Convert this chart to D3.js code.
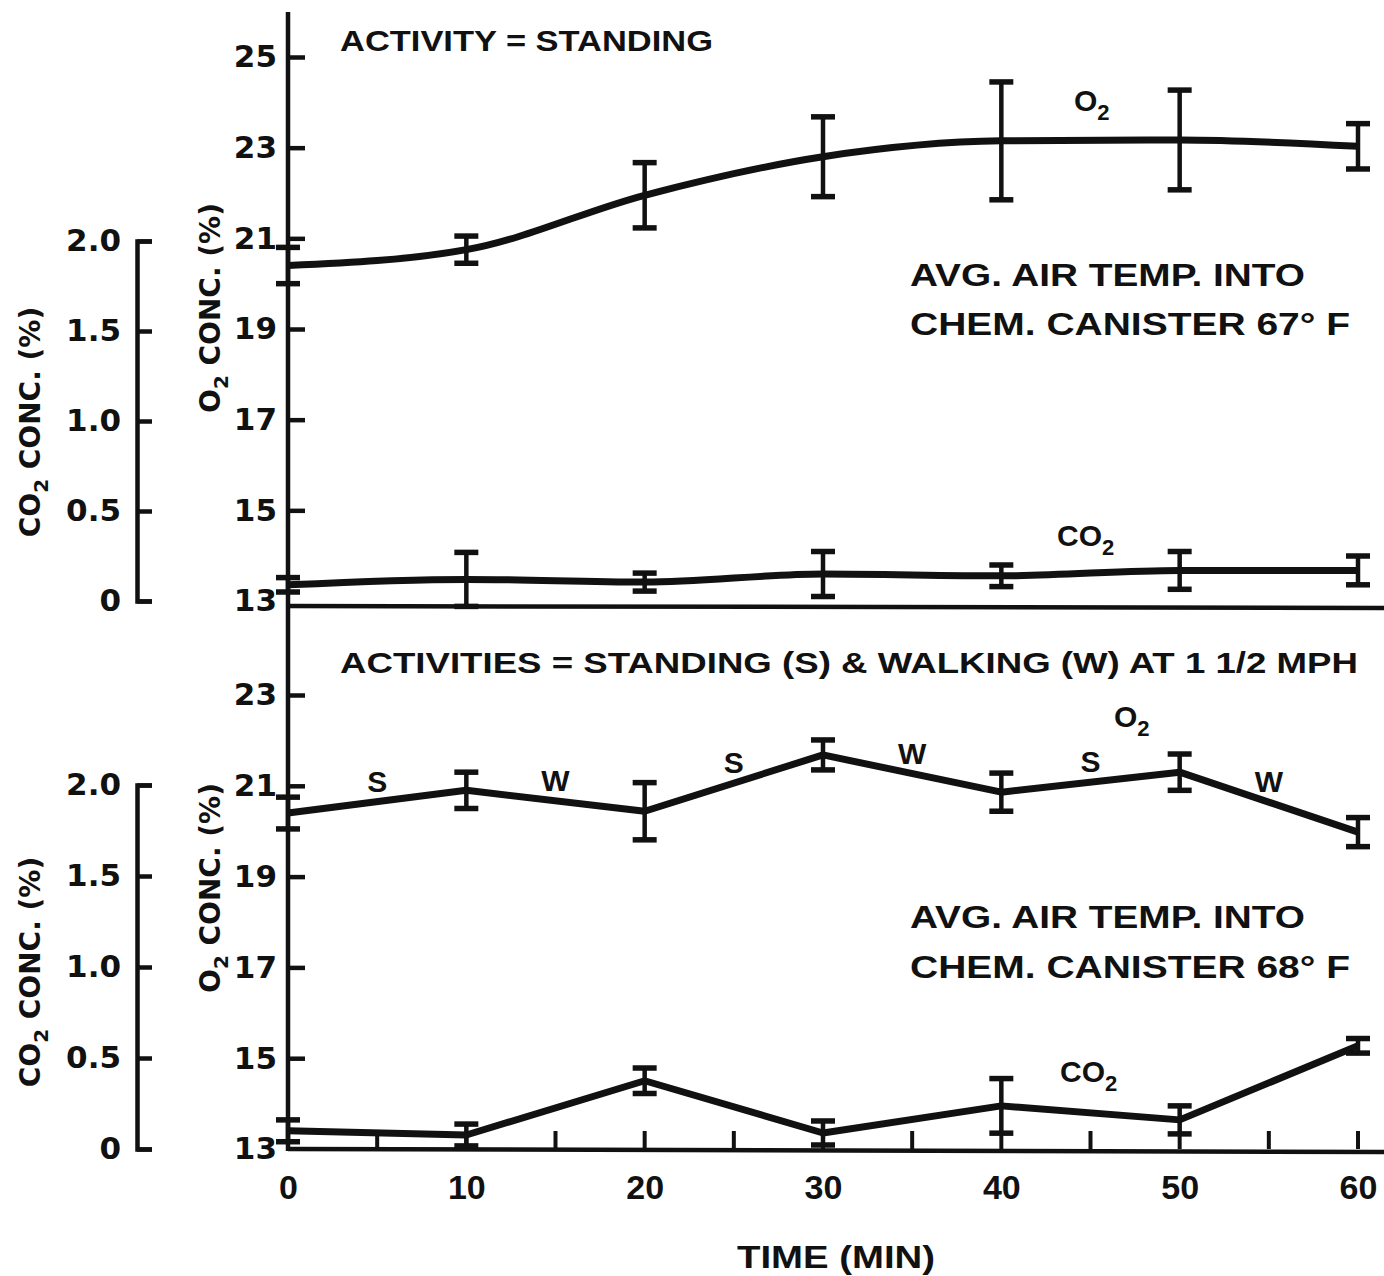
<!DOCTYPE html>
<html>
<head>
<meta charset="utf-8">
<script src="https://cdn.jsdelivr.net/npm/d3@7"></script>
<style>
  body { margin: 0; background: #fff; }
  svg text { font-family: "DejaVu Sans", sans-serif; fill: #111; }
</style>
</head>
<body>
<svg id="chart" width="1384" height="1276"></svg>
<script>
// time points (min)
var times = [0, 10, 20, 30, 40, 50, 60];

// top panel: activity = standing
var o2Standing = [20.4, 20.75, 21.95, 22.8, 23.15, 23.17, 23.03];
var o2StandingErr = [0.4, 0.3, 0.72, 0.88, 1.3, 1.1, 0.5];
var co2Standing = [0.09, 0.12, 0.105, 0.15, 0.14, 0.17, 0.17];
var co2StandingErr = [0.04, 0.15, 0.05, 0.125, 0.06, 0.105, 0.08];

// bottom panel: standing & walking
var o2Mixed = [20.4, 20.9, 20.44, 21.68, 20.86, 21.3, 19.98];
var o2MixedErr = [0.35, 0.4, 0.63, 0.33, 0.42, 0.4, 0.32];
var co2Mixed = [0.1, 0.077, 0.375, 0.088, 0.237, 0.16, 0.567];
var co2MixedErr = [0.06, 0.06, 0.07, 0.066, 0.15, 0.077, 0.04];

var phases = ["S", "W", "S", "W", "S", "W"];

var o2TicksTop = [13, 15, 17, 19, 21, 23, 25];
var o2TicksBottom = [13, 15, 17, 19, 21, 23];
var co2Ticks = [0, 0.5, 1.0, 1.5, 2.0];
var timeTicks = [0, 10, 20, 30, 40, 50, 60];
var timeMinorTicks = [5, 10, 15, 20, 25, 30, 35, 40, 45, 50, 55, 60];

var svg = d3.select('#chart');

var x = d3.scaleLinear().domain([0, 60]).range([288, 1358]);

var yO2Top = d3.scaleLinear().domain([13, 25]).range([601, 57]);
var yCo2Top = d3.scaleLinear().domain([0, 2]).range([601, 241]);
var yO2Bot = d3.scaleLinear().domain([13, 23]).range([1149, 695]);
var yCo2Bot = d3.scaleLinear().domain([0, 2]).range([1149, 785]);

function co2Fmt(d) {
    return d === 0 ? "0" : d3.format(".1f")(d);
}

function styleAxis(g, size) {
    g.selectAll('path, line').attr('stroke', '#111').attr('stroke-width', 4.5);
    g.selectAll('text')
        .style('font-size', size + 'px')
        .style('font-weight', 'bold')
        .attr('fill', '#111');
}

// long vertical O2 axis line (both panels)
svg.append('line')
    .attr('x1', x(0)).attr('x2', x(0))
    .attr('y1', 12).attr('y2', yO2Bot(13) + 2)
    .attr('stroke', '#111').attr('stroke-width', 4.5);

// top O2 axis
var gO2t = svg.append('g')
    .attr('transform', 'translate(' + x(0) + ',0)')
    .call(d3.axisLeft(yO2Top).tickValues(o2TicksTop).tickSizeInner(-17).tickSizeOuter(0).tickPadding(11));
gO2t.select('.domain').remove();
gO2t.selectAll('.tick').filter(function (d) { return d === 13; }).select('line').remove();
styleAxis(gO2t, 31);

// top CO2 axis
var gCo2t = svg.append('g')
    .attr('transform', 'translate(137,0)')
    .call(d3.axisLeft(yCo2Top).tickValues(co2Ticks).tickFormat(co2Fmt).tickSizeInner(-15).tickSizeOuter(-15).tickPadding(16));
styleAxis(gCo2t, 31);

// bottom O2 axis
var gO2b = svg.append('g')
    .attr('transform', 'translate(' + x(0) + ',0)')
    .call(d3.axisLeft(yO2Bot).tickValues(o2TicksBottom).tickSizeInner(-17).tickSizeOuter(0).tickPadding(11));
gO2b.select('.domain').remove();
gO2b.selectAll('.tick').filter(function (d) { return d === 13; }).select('line').remove();
styleAxis(gO2b, 31);

// bottom CO2 axis
var gCo2b = svg.append('g')
    .attr('transform', 'translate(137,0)')
    .call(d3.axisLeft(yCo2Bot).tickValues(co2Ticks).tickFormat(co2Fmt).tickSizeInner(-15).tickSizeOuter(-15).tickPadding(16));
styleAxis(gCo2b, 31);

// separator between panels
svg.append('line')
    .attr('x1', x(0)).attr('x2', 1384)
    .attr('y1', yO2Top(13) + 5).attr('y2', yO2Top(13) + 7)
    .attr('stroke', '#111').attr('stroke-width', 4.5);

// time axis
var gx = svg.append('g')
    .attr('transform', 'translate(0,' + yO2Bot(13) + ')')
    .call(d3.axisBottom(x).tickValues(timeTicks).tickSize(0).tickPadding(26));
gx.select('.domain').remove();
styleAxis(gx, 31);
gx.selectAll('text').style('font-family', '"Liberation Sans", sans-serif').style('font-size', '34px');

svg.append('line')
    .attr('x1', x(0)).attr('x2', 1384)
    .attr('y1', yO2Bot(13)).attr('y2', yO2Bot(13) + 3)
    .attr('stroke', '#111').attr('stroke-width', 4.5);

svg.append('g').selectAll('line')
    .data(timeMinorTicks)
    .enter()
    .append('line')
    .attr('x1', function (d) { return x(d); })
    .attr('x2', function (d) { return x(d); })
    .attr('y1', yO2Bot(13))
    .attr('y2', yO2Bot(13) - 18)
    .attr('stroke', '#111').attr('stroke-width', 4);

// series drawing
function drawSeries(vals, errs, y, curve) {
    var pts = times.map(function (t, i) {
        return { t: t, v: vals[i], e: errs[i] };
    });
    var line = d3.line()
        .x(function (d) { return x(d.t); })
        .y(function (d) { return y(d.v); })
        .curve(curve);
    svg.append('path')
        .datum(pts)
        .attr('d', line)
        .attr('fill', 'none')
        .attr('stroke', '#111')
        .attr('stroke-width', 7)
        .attr('stroke-linejoin', 'round');

    var g = svg.append('g').selectAll('g')
        .data(pts)
        .enter()
        .append('g');
    g.append('line')
        .attr('x1', function (d) { return x(d.t); })
        .attr('x2', function (d) { return x(d.t); })
        .attr('y1', function (d) { return y(d.v + d.e); })
        .attr('y2', function (d) { return y(d.v - d.e); })
        .attr('stroke', '#111').attr('stroke-width', 4.5);
    g.append('line')
        .attr('x1', function (d) { return x(d.t) - 12; })
        .attr('x2', function (d) { return x(d.t) + 12; })
        .attr('y1', function (d) { return y(d.v + d.e); })
        .attr('y2', function (d) { return y(d.v + d.e); })
        .attr('stroke', '#111').attr('stroke-width', 5.5);
    g.append('line')
        .attr('x1', function (d) { return x(d.t) - 12; })
        .attr('x2', function (d) { return x(d.t) + 12; })
        .attr('y1', function (d) { return y(d.v - d.e); })
        .attr('y2', function (d) { return y(d.v - d.e); })
        .attr('stroke', '#111').attr('stroke-width', 5.5);
}

drawSeries(o2Standing, o2StandingErr, yO2Top, d3.curveMonotoneX);
drawSeries(co2Standing, co2StandingErr, yCo2Top, d3.curveMonotoneX);
drawSeries(o2Mixed, o2MixedErr, yO2Bot, d3.curveLinear);
drawSeries(co2Mixed, co2MixedErr, yCo2Bot, d3.curveLinear);

// S / W labels between time points
svg.append('g').selectAll('text')
    .data(phases)
    .enter()
    .append('text')
    .attr('x', function (d, i) { return x(times[i] + 5); })
    .attr('y', function (d, i) { return yO2Bot((o2Mixed[i] + o2Mixed[i + 1]) / 2) - 10; })
    .attr('text-anchor', 'middle')
    .style('font-family', '"Liberation Sans", sans-serif')
    .style('font-size', '30px')
    .style('font-weight', 'bold')
    .text(function (d) { return d; });

// plain text annotations
function label(txt, px, py, len, size, weight) {
    svg.append('text')
        .attr('x', px).attr('y', py)
        .attr('textLength', len)
        .attr('lengthAdjust', 'spacingAndGlyphs')
        .style('font-family', '"Liberation Sans", sans-serif')
        .style('font-size', size + 'px')
        .style('font-weight', weight)
        .text(txt);
}

function gasLabel(gas, px, py) {
    var t = svg.append('text')
        .attr('x', px).attr('y', py)
        .style('font-family', '"Liberation Sans", sans-serif')
        .style('font-size', '30px')
        .style('font-weight', 'bold');
    t.append('tspan').text(gas);
    t.append('tspan').attr('dy', 9).style('font-size', '22px').text('2');
}

label('ACTIVITY = STANDING', 340, 51, 373, 30, 'bold');
label('AVG. AIR TEMP. INTO', 910, 286, 395, 31, 'bold');
label('CHEM. CANISTER 67° F', 910, 335, 440, 31, 'bold');
label('ACTIVITIES = STANDING (S) & WALKING (W) AT 1 1/2 MPH', 340, 673, 1018, 30, 'bold');
label('AVG. AIR TEMP. INTO', 910, 928, 395, 31, 'bold');
label('CHEM. CANISTER 68° F', 910, 978, 440, 31, 'bold');
label('TIME (MIN)', 737, 1268, 198, 31, 'bold');

gasLabel('O', 1074, 111);
gasLabel('CO', 1057, 546);
gasLabel('O', 1114, 727);
gasLabel('CO', 1060, 1082);

// rotated y axis titles
function yTitle(gas, rest, cx, cy) {
    var t = svg.append('text')
        .attr('transform', 'translate(' + cx + ',' + cy + ') rotate(-90)')
        .attr('text-anchor', 'middle')
        .style('font-size', '28px')
        .style('font-weight', 'bold');
    t.append('tspan').text(gas);
    t.append('tspan').attr('dy', 8).style('font-size', '20px').text('2');
    t.append('tspan').attr('dy', -8).text(' ' + rest);
}

yTitle('CO', 'CONC. (%)', 40, 422);
yTitle('CO', 'CONC. (%)', 40, 972);
yTitle('O', 'CONC. (%)', 220, 308);
yTitle('O', 'CONC. (%)', 220, 888);
</script>
</body>
</html>
